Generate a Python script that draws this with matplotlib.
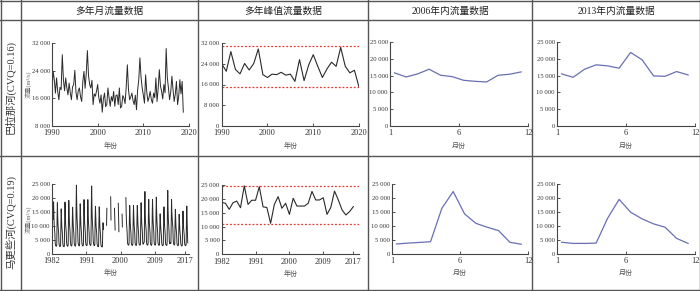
import numpy as np
import matplotlib
matplotlib.use("Agg")
import matplotlib.pyplot as plt
from matplotlib.ticker import FuncFormatter

plt.rcParams['font.family'] = ['Liberation Serif', 'Noto Sans CJK SC']

nan = np.nan

# ---- column / row headers
headers = ["多年月流量数据", "多年峰值流量数据", "2006年内流量数据", "2013年内流量数据"]
rivers = ["巴拉那河(CVQ=0.16)", "马更些河(CVQ=0.19)"]

# ---- Parana (巴拉那河): quarterly readings 1990-2018, m3/s
pa_start = 1990
pa_series = [
    18000, 23800, 21400, 17500,  21900, 18000, 15600, 19200,
    18500, 28600, 21400, 18200,  21900, 19000, 17000, 20400,
    17600, 15600, 19300, 20000,  24100, 17800, 15600, 18200,
    19000, 16400, 15100, 20800,  23800, 18900, 23300, 29800,
    22500, 20000, 19000, 21200,  14200, 17300, 16600, 18100,
    20000, 16200, 14600, 17000,  12000, 15800, 17500, 13600,
    14200, 19000, 16100, 13700,  16500, 15200, 18000, 13700,
    16800, 17000, 14200, 19000,  13200, 13700, 16800, 16100,
    14500, 19300, 25700, 18500,  15600, 16400, 17500, 15300,
    14200, 16900, 12700, 18400,  21300, 27700, 22100, 19000,
    16900, 14600, 22800, 17900,  15100, 16300, 18000, 15600,
    14600, 17500, 16200, 21900,  15100, 18800, 24300, 19600,
    18000, 15800, 20000, 17600,  30400, 22000, 19000, 15600,
    17800, 22400, 18600, 15100,  17200, 20900, 14200, 16600,
    21400, 17300, 20900, 12000,
]
pa_peak_years = list(range(1990, 2021))
pa_peaks = [24000, 21100, 28700, 21800, 20100, 24100, 21600, 24100, 29700, 19800,
            18700, 20000, 19800, 20700, 19600, 20000, 17200, 25600, 17500, 23500,
            27500, 23000, 18700, 22000, 24600, 23000, 30300, 23000, 20500, 21500,
            15000]
pa_peak_limits = [30800, 15000]
pa_2006 = [15800, 14600, 15500, 16900, 15100, 14700, 13600, 13300, 13100, 15100, 15400, 16100]
pa_2013 = [15500, 14500, 16900, 18200, 17900, 17200, 21900, 19700, 14900, 14800, 16200, 15200]

# ---- Mackenzie (马更些河): monthly flow 1982-2017 (Jan..Dec), m3/s
mk_start = 1982
mk_monthly = [
    [nan, nan, nan, nan, 12500, 18700, 13600, 10300, 8900, 7400, 4100, 3200],
    [2900, 2800, 2800, 3200, 12600, 18400, 13200, 10500, 9000, 7300, 4000, 3100],
    [2800, 2700, 2700, 3100, 11000, 16200, 12500, 9800, 8500, 6900, 3800, 3000],
    [2800, 2700, 2600, 3000, 13000, 18600, 14000, 10700, 9200, 7600, 4200, 3200],
    [2900, 2800, 2800, 3300, 13300, 19200, 14500, 11100, 9500, 7800, 4300, 3400],
    [3000, 2900, 2900, 3400, 11800, 16800, 12800, 10100, 8700, 7100, 4000, 3200],
    [3000, 2900, 2800, 3600, 17000, 24700, 17300, 12700, 10400, 8300, 4600, 3500],
    [3200, 3000, 2900, 3400, 12600, 18000, 13600, 10500, 9000, 7400, 4200, 3300],
    [3000, 2900, 2900, 3300, 13600, 19500, 14300, 11000, 9400, 7700, 4300, 3400],
    [3100, 3000, 3000, 3500, 13900, 19500, 14600, 11300, 9600, 7800, 4400, 3500],
    [3300, 3100, 3100, 3800, 17300, 24400, 17000, 12500, 10300, 8200, 4700, 3600],
    [3200, 3000, 3000, 3400, 12100, 17100, 13000, 10100, 8800, 7200, 4000, 3100],
    [2800, 2700, 2600, 3000, 11700, 16900, 12700, 9800, 8500, 6800, 3700, 2900],
    [2700, 2600, 2500, 2900, 8000, 11200, 8800, nan, nan, nan, nan, nan],
    [nan, nan, nan, nan, 10300, 16400, nan, nan, nan, nan, nan, nan],
    [nan, nan, nan, nan, nan, 20500, 12200, nan, nan, nan, nan, nan],
    [nan, nan, nan, nan, nan, 16400, 12000, 8600, nan, nan, nan, nan],
    [nan, nan, nan, nan, nan, 18200, 12500, 8000, nan, nan, nan, nan],
    [nan, nan, nan, nan, nan, 14300, 9700, nan, nan, nan, nan, nan],
    [nan, nan, nan, nan, nan, 20200, 14400, 11100, 9400, 7600, 4300, 3500],
    [3300, 3200, 3200, 3600, 12400, 17400, 13300, 10400, 9000, 7300, 4100, 3400],
    [3200, 3100, 3100, 3600, 12200, 17400, 13200, 10500, 9000, 7300, 4100, 3400],
    [3200, 3100, 3100, 3700, 12700, 17400, 13300, 10500, 9100, 7500, 4200, 3400],
    [3300, 3200, 3200, 3800, 13100, 18400, 13900, 10900, 9300, 7600, 4300, 3500],
    [3600, 3900, 4150, 4400, 16400, 22400, 14400, 11000, 9600, 8400, 4200, 3500],
    [3300, 3200, 3200, 3800, 13800, 19600, 14400, 11200, 9500, 7800, 4300, 3500],
    [3300, 3200, 3100, 3700, 13900, 19600, 14500, 11200, 9600, 7800, 4400, 3500],
    [3300, 3200, 3200, 3800, 14300, 20400, 15000, 11500, 9700, 7900, 4400, 3600],
    [3300, 3100, 3100, 3500, 10200, 14400, 11300, 9000, 7900, 6600, 3900, 3300],
    [3100, 3000, 3000, 3500, 11800, 16900, 12800, 10100, 8700, 7100, 4000, 3300],
    [3200, 3100, 3100, 3900, 16200, 22800, 16200, 12200, 10200, 8200, 4600, 3700],
    [4200, 3800, 3800, 3900, 12800, 19600, 15000, 12600, 10800, 9600, 5600, 3800],
    [3500, 3300, 3200, 3600, 11300, 16000, 12300, 9700, 8500, 7000, 4000, 3300],
    [3100, 3000, 3000, 3400, 10000, 14200, 11000, 8800, 7700, 6400, 3800, 3200],
    [3000, 2900, 2900, 3400, 10800, 15400, 11800, 9300, 8100, 6800, 3900, 3300],
    [3100, 3000, 3000, 3500, 12100, 17200, 12000, 8000, 4000, nan, nan, nan],
]
mk_peak_years = list(range(1982, 2018))
mk_peaks = [18750, 18400, 16200, 18600, 19200, 16800, 24700, 18000, 19500, 19500,
            24400, 17100, 16900, 11200, 18000, 20800, 16600, 18400, 14400, 20200,
            17400, 17400, 17400, 18400, 22700, 19600, 19600, 20400, 14400, 16900,
            22800, 19600, 16000, 14200, 15400, 17200]
mk_peak_limits = [24800, 10800]
months = list(range(1, 13))

W, H = 700, 291
fig = plt.figure(figsize=(7, 2.91), dpi=100)

# table grid drawn in a pixel-space background axes
bg = fig.add_axes([0, 0, 1, 1])
bg.set_xlim(0, W)
bg.set_ylim(H, 0)
bg.axis('off')
grid_c = '#555555'
for y in [0.5, 20, 155.5, 289.5]:
    bg.plot([0, W], [y, y], color=grid_c, lw=1.0)
for x in [0.5, 20.5, 198, 368, 532, 699.5]:
    bg.plot([x, x], [0, 289.5], color=grid_c, lw=1.0)

col_centers = [109.5, 283, 450, 616]
for cx, txt in zip(col_centers, headers):
    bg.text(cx, 11, txt, ha='center', va='center', fontsize=7, color='#222222')
for cy, txt in zip([87.5, 222], rivers):
    bg.text(10.5, cy, txt, ha='center', va='center', rotation=90, fontsize=7.5, color='#333333')


def fmt(v, pos):
    return '0' if v == 0 else f'{int(round(v)):,}'.replace(',', ' ')


def make_ax(l, r, t, b):
    ax = fig.add_axes([l / W, 1 - b / H, (r - l) / W, (b - t) / H])
    ax.patch.set_alpha(0)
    for s in ['top', 'right']:
        ax.spines[s].set_visible(False)
    for s in ['left', 'bottom']:
        ax.spines[s].set_color('#444444')
        ax.spines[s].set_linewidth(0.8)
    ax.tick_params(direction='in', length=2.5, width=0.6, colors='#333333')
    ax.tick_params(axis='y', labelsize=4.8, pad=1.5)
    ax.tick_params(axis='x', labelsize=6, pad=2.5)
    ax.yaxis.set_major_formatter(FuncFormatter(fmt))
    return ax


def xlabel(ax, txt, y, x=0.5):
    ax.text(x, y, txt, transform=ax.transAxes, ha='center', va='center',
            fontsize=5, color='#555555')


def ylabel(ax, txt, x):
    ax.text(x, 0.5, txt, transform=ax.transAxes, ha='center', va='center',
            rotation=90, fontsize=4.5, color='#666666')


line_c = '#2a2a2a'
blue = '#6a6fb5'
red = '#e8392f'

# ---------------- top row: Parana
pa_x = pa_start + np.arange(len(pa_series)) * 0.25
ax = make_ax(52, 189, 43, 126)
ax.plot(pa_x, pa_series, color=line_c, lw=0.7)
ax.set_xlim(1990, 2020)
ax.set_ylim(8000, 32000)
ax.set_xticks([1990, 2000, 2010, 2020])
ax.set_yticks([8000, 16000, 24000, 32000])
xlabel(ax, '年份', -0.23, 0.43)
ylabel(ax, '流量(m³/s)', -0.175)

ax = make_ax(221.7, 359, 43, 126)
ax.plot(pa_peak_years, pa_peaks, color=line_c, lw=0.8)
for v in pa_peak_limits:
    ax.axhline(v, color=red, lw=0.9, ls=(0, (1.5, 1.5)))
ax.set_xlim(1990, 2020)
ax.set_ylim(0, 32000)
ax.set_xticks([1990, 2000, 2010, 2020])
ax.set_yticks([0, 8000, 16000, 24000, 32000])
xlabel(ax, '年份', -0.23)

for (l, r), vals in zip([(390, 528), (557, 695)], [pa_2006, pa_2013]):
    ax = make_ax(l, r, 42, 126)
    ax.plot(months, vals, color=blue, lw=0.9)
    ax.set_xlim(0.6, 12.6)
    ax.set_ylim(0, 25000)
    ax.set_xticks([0.6, 6.6, 12.6])
    ax.set_xticklabels(['1', '6', '12'])
    ax.set_yticks(range(0, 25001, 5000))
    xlabel(ax, '月份', -0.23)

# ---------------- bottom row: Mackenzie
mk_flat = np.array(mk_monthly, dtype=float).ravel()
mk_x = mk_start + np.arange(len(mk_flat)) / 12
ax = make_ax(52, 189, 184.3, 254)
ax.plot(mk_x, mk_flat, color=line_c, lw=0.7)
ax.set_xlim(1982, 2018)
ax.set_ylim(0, 25000)
ax.set_xticks([1982, 1991, 2000, 2009, 2017])
ax.set_yticks(range(0, 25001, 5000))
xlabel(ax, '年份', -0.27, 0.43)
ylabel(ax, '流量(m³/s)', -0.175)

ax = make_ax(221.7, 359, 185, 254.3)
ax.plot(mk_peak_years, mk_peaks, color=line_c, lw=0.8)
for v in mk_peak_limits:
    ax.axhline(v, color=red, lw=0.9, ls=(0, (1.5, 1.5)))
ax.set_xlim(1982, 2018.5)
ax.set_ylim(0, 25000)
ax.set_xticks([1982, 1991, 2000, 2009, 2017])
ax.set_yticks(range(0, 25001, 5000))
xlabel(ax, '年份', -0.27)

mk_2006 = mk_monthly[2006 - mk_start]
mk_2013 = mk_monthly[2013 - mk_start]
for (l, r), vals in zip([(392, 528), (557, 695)], [mk_2006, mk_2013]):
    ax = make_ax(l, r, 184.3, 254)
    ax.plot(months, vals, color=blue, lw=0.9)
    ax.set_xlim(0.6, 12.6)
    ax.set_ylim(0, 25000)
    ax.set_xticks([0.6, 6.6, 12.6])
    ax.set_xticklabels(['1', '6', '12'])
    ax.set_yticks(range(0, 25001, 5000))
    xlabel(ax, '月份', -0.27)

fig.savefig('out.png', dpi=100)
